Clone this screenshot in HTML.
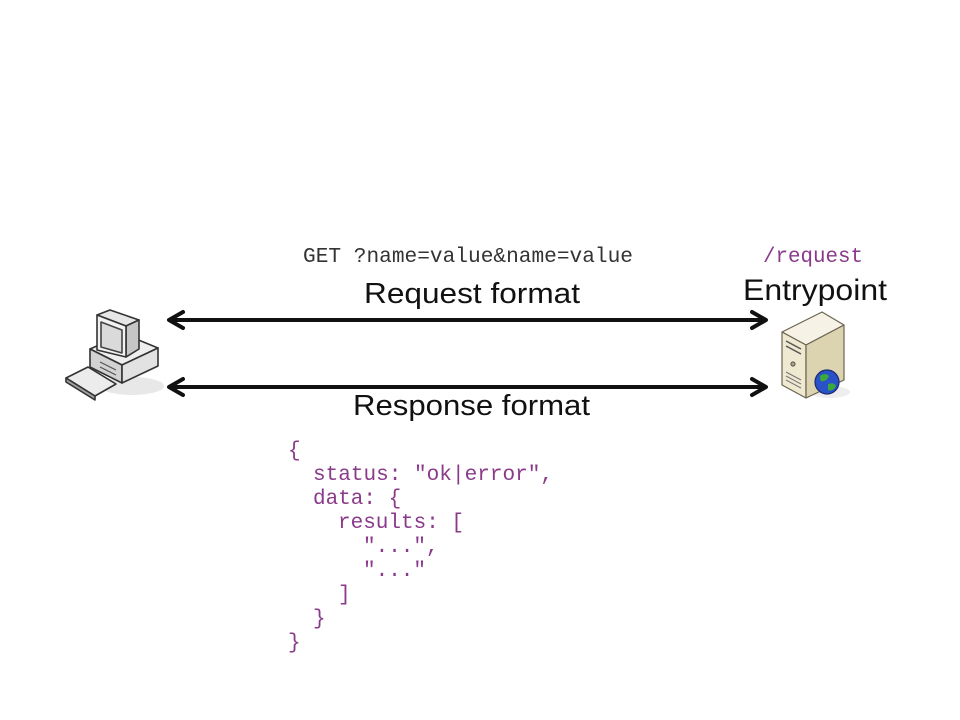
<!DOCTYPE html>
<html>
<head>
<meta charset="utf-8">
<style>
  html, body { margin: 0; padding: 0; background: #ffffff; }
  body { width: 960px; height: 720px; overflow: hidden; }
  svg { display: block; }
</style>
</head>
<body>
<svg width="960" height="720" viewBox="0 0 960 720" xmlns="http://www.w3.org/2000/svg">
  <rect width="960" height="720" fill="#ffffff"/>

  <!-- Top labels -->
  <text x="303" y="262" font-family="Liberation Mono, monospace" font-size="21" fill="#333333" textLength="330" lengthAdjust="spacingAndGlyphs">GET ?name=value&amp;name=value</text>
  <text x="763" y="262" font-family="Liberation Mono, monospace" font-size="21" fill="#8a3a8a" textLength="100" lengthAdjust="spacingAndGlyphs">/request</text>

  <text x="364" y="303" font-family="Liberation Sans, sans-serif" font-size="29" fill="#111111" textLength="216" lengthAdjust="spacingAndGlyphs">Request format</text>
  <text x="743" y="300" font-family="Liberation Sans, sans-serif" font-size="30" fill="#111111" textLength="144" lengthAdjust="spacingAndGlyphs">Entrypoint</text>
  <text x="353" y="415" font-family="Liberation Sans, sans-serif" font-size="29" fill="#111111" textLength="237" lengthAdjust="spacingAndGlyphs">Response format</text>

  <!-- Arrows -->
  <g stroke="#111111" stroke-width="4" fill="none" stroke-linecap="round" stroke-linejoin="round">
    <line x1="170" y1="320" x2="765" y2="320"/>
    <polyline points="183,312 169,320 183,328"/>
    <polyline points="752,312 766,320 752,328"/>
    <line x1="170" y1="387" x2="765" y2="387"/>
    <polyline points="183,379 169,387 183,395"/>
    <polyline points="752,379 766,387 752,395"/>
  </g>

  <!-- Computer icon -->
  <g stroke="#333333" stroke-width="1.6" stroke-linejoin="round">
    <ellipse cx="132" cy="386" rx="32" ry="9" fill="#e8e8e8" stroke="none"/>
    <!-- case top -->
    <polygon points="90,349 124,334 158,348 122,365" fill="#eeeeee"/>
    <!-- case left/front -->
    <polygon points="90,349 122,365 122,383 90,367" fill="#d2d2d2"/>
    <!-- case right -->
    <polygon points="122,365 158,348 158,366 122,383" fill="#e2e2e2"/>
    <line x1="100" y1="362" x2="116" y2="370" stroke="#555" stroke-width="1.2"/>
    <line x1="100" y1="367" x2="116" y2="375" stroke="#555" stroke-width="1.2"/>
    <!-- monitor top -->
    <polygon points="97,315 110,310 139,320 126,326" fill="#e6e6e6"/>
    <!-- monitor right side -->
    <polygon points="126,326 139,320 139,349 126,357" fill="#c6c6c6"/>
    <!-- monitor front -->
    <polygon points="97,315 126,326 126,357 97,350" fill="#f2f2f2"/>
    <!-- screen -->
    <polygon points="101,322 122,330 122,353 101,347" fill="#dadada" stroke="#444"/>
    <!-- keyboard -->
    <polygon points="66,378 88,367 116,384 95,396" fill="#ececec"/>
    <polygon points="66,378 95,396 95,400 66,382" fill="#a0a0a0"/>
  </g>

  <!-- Server icon -->
  <g stroke="#6a6450" stroke-width="1.2" stroke-linejoin="round">
    <ellipse cx="830" cy="392" rx="20" ry="6" fill="#eeeeee" stroke="none"/>
    <polygon points="782,332 822,312 844,325 806,345" fill="#f6f3e6"/>
    <polygon points="782,332 806,345 806,398 782,385" fill="#efe9d2"/>
    <polygon points="806,345 844,325 844,380 806,398" fill="#dcd3b0"/>
    <line x1="786" y1="341" x2="801" y2="349" stroke="#555" stroke-width="1.5"/>
    <line x1="786" y1="346" x2="801" y2="354" stroke="#555" stroke-width="1.5"/>
    <line x1="786" y1="372" x2="801" y2="380" stroke="#777" stroke-width="1"/>
    <line x1="786" y1="376" x2="801" y2="384" stroke="#777" stroke-width="1"/>
    <line x1="786" y1="380" x2="801" y2="388" stroke="#777" stroke-width="1"/>
    <circle cx="793" cy="364" r="2" fill="#aaa399"/>
    <circle cx="827" cy="382" r="12" fill="#2a52c8" stroke="#1a2a70"/>
    <path d="M820,376 q5,-4 9,0 q-2,5 -6,5 q-3,2 -3,-5z" fill="#3aa83a" stroke="none"/>
    <path d="M828,384 q6,-2 8,2 q-3,6 -8,4z" fill="#3aa83a" stroke="none"/>
  </g>

  <!-- Response JSON -->
  <g font-family="Liberation Mono, monospace" font-size="21" fill="#8a3a8a">
    <text x="288" y="456">{</text>
    <text x="313" y="480" textLength="240" lengthAdjust="spacingAndGlyphs">status: "ok|error",</text>
    <text x="313" y="504">data: {</text>
    <text x="338" y="528">results: [</text>
    <text x="363" y="552">"...",</text>
    <text x="363" y="576">"..."</text>
    <text x="338" y="600">]</text>
    <text x="313" y="624">}</text>
    <text x="288" y="648">}</text>
  </g>
</svg>
</body>
</html>
